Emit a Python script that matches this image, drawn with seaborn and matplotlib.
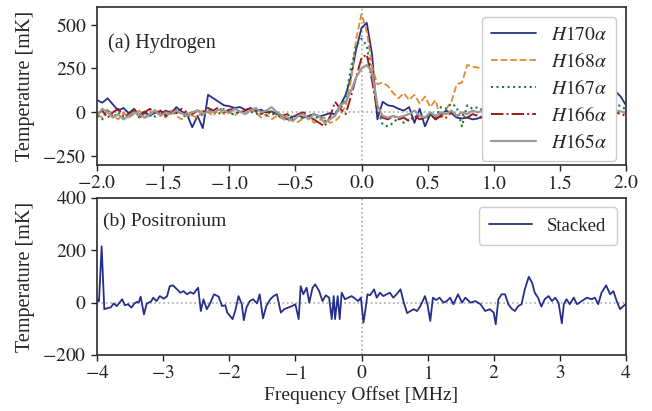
import numpy as np
import pandas as pd
import matplotlib
matplotlib.use("Agg")
import matplotlib.pyplot as plt
from matplotlib.ticker import FuncFormatter
import seaborn as sns

# --- Hydrogen recombination lines, stacked per transition (mK) ---
freq_h = np.linspace(-2.0, 2.0, 101)  # MHz channel grid

h170 = [70, 55, 80, 45, 10, 25, -5, 20, -15, 5,
        -20, 0, -10, 10, -5, 30, 5, -10, -85, -20,
        -90, 100, 80, 60, 40, 35, 25, 30, 15, 20,
        10, 15, 0, 5, -10, -20, -40, -25, -15, -30,
        -20, -10, -25, -15, -5, -10, 40, 100, 200, 360,
        480, 510, 330, -40, 60, 40, 35, 20, 10, 30,
        -60, 20, -80, -10, -40, -15, 10, -5, -30, -35,
        -30, -40, -35, -20, 10, 60, 50, 40, 30, 45,
        20, 35, 10, 25, 40, 30, 15, 20, 35, 50,
        30, 20, 45, 60, 55, 40, 40, 70, 120, 90,
        40]
h168 = [-10, -30, 20, -20, -40, 0, -30, -10, 10, -30,
        -20, 20, -10, -30, 10, -20, -40, 0, -20, -30,
        10, 0, -20, 20, -10, 5, -20, 10, -10, 20,
        0, -30, -10, -40, -20, -35, -50, -40, -55, -35,
        -20, -60, -45, -30, -60, -50, -20, 40, 180, 420,
        560, 460, 260, 160, 170, 150, 110, 80, 110, 70,
        100, 50, 90, 30, 70, -40, 20, 60, 160, 170,
        270, 260, 255, 250, 290, 310, 300, 290, 280, 260,
        240, 220, 200, 180, 150, 130, 110, 90, 70, 50,
        40, 30, 20, 10, 0, -10, 0, -10, 10, 0,
        -5]
h167 = [-20, -40, 10, -30, 0, -35, -10, 20, -30, -10,
        0, -25, 10, -20, -5, 15, -10, -30, 0, 10,
        -20, 15, 5, -10, 20, 0, -15, 10, -5, 5,
        -10, 0, -20, 10, -15, -30, -10, -40, -20, -35,
        -25, -40, -20, -50, -30, -10, 20, 80, 250, 380,
        420, 380, 200, 20, -70, -80, -60, -30, -60, -40,
        -30, -20, -40, -10, -30, 30, 20, 50, 30, -80,
        40, 20, 30, 10, -10, 20, 10, 30, 20, 40,
        20, 30, 10, 40, 20, 30, 10, 20, 40, 30,
        20, 30, 10, 20, 40, 30, 20, 40, 60, 30,
        20]
h166 = [-10, 10, -30, 0, 20, -20, -10, 10, -30, 0,
        20, -10, 10, -20, 15, -5, 20, 0, -10, 10,
        0, 25, 10, 30, 0, 15, 20, -5, 10, 25,
        5, -10, 10, -15, 0, -20, -10, -30, -10, 0,
        -20, -40, -60, -80, -30, 60, 20, -10, 90, 200,
        310, 330, 180, 0, -30, -40, -20, -40, -30, -50,
        -20, -40, -30, -10, -40, -20, -30, 0, -20, -10,
        -30, -10, -20, -40, -10, -20, 0, -10, 10, -20,
        0, 10, -10, 20, 0, -10, 10, 20, 0, -10,
        10, 0, -10, 10, 20, 0, -10, 10, 0, -10,
        -20]
h165 = [-20, 20, 0, -30, -10, -40, -20, 0, -10, -30,
        -10, 10, -20, 0, -10, 10, -5, -20, 0, 10,
        -10, 5, 0, 15, 10, -5, 20, 5, -10, 10,
        25, 0, 10, 30, 0, -20, -30, -50, -20, -10,
        -40, -10, -20, -60, -40, -20, 40, 60, 120, 200,
        250, 270, 230, 40, -20, -30, -20, -30, -20, -10,
        10, -20, -30, 0, -20, 0, -10, 10, -20, 0,
        -10, 10, 0, 10, -10, 0, 10, -10, 0, 10,
        0, -10, 10, 0, -10, 10, 0, -10, 10, 0,
        10, 0, -10, 0, 10, 0, -10, 0, 10, 5,
        0]

# --- Positronium stacked spectrum (mK) ---
freq_ps = [-4.00, -3.97, -3.93, -3.89, -3.83, -3.79, -3.75, -3.70, -3.66, -3.62,
           -3.58, -3.53, -3.48, -3.44, -3.40, -3.37, -3.34, -3.29, -3.25, -3.22,
           -3.18, -3.15, -3.10, -3.05, -2.99, -2.94, -2.90, -2.85, -2.79, -2.74,
           -2.69, -2.64, -2.59, -2.54, -2.49, -2.47, -2.43, -2.39, -2.34, -2.29,
           -2.23, -2.16, -2.11, -2.06, -2.03, -1.99, -1.95, -1.91, -1.86, -1.81,
           -1.78, -1.74, -1.69, -1.64, -1.58, -1.54, -1.49, -1.44, -1.38, -1.33,
           -1.28, -1.22, -1.17, -1.11, -1.05, -1.00, -0.95, -0.92, -0.88, -0.83,
           -0.79, -0.74, -0.70, -0.64, -0.59, -0.54, -0.49, -0.45, -0.42, -0.40,
           -0.36, -0.33, -0.30, -0.25, -0.20, -0.15, -0.10, -0.05, -0.01, 0.03,
           0.06, 0.09, 0.13, 0.19, 0.23, 0.28, 0.33, 0.38, 0.43, 0.48,
           0.53, 0.59, 0.64, 0.69, 0.74, 0.79, 0.84, 0.89, 0.96, 1.00,
           1.04, 1.08, 1.13, 1.18, 1.24, 1.29, 1.34, 1.39, 1.46, 1.52,
           1.57, 1.65, 1.72, 1.80, 1.87, 1.94, 2.00, 2.03, 2.07, 2.12,
           2.17, 2.22, 2.27, 2.32, 2.37, 2.42, 2.47, 2.53, 2.58, 2.62,
           2.67, 2.72, 2.77, 2.83, 2.88, 2.93, 2.98, 3.03, 3.06, 3.10,
           3.15, 3.21, 3.26, 3.33, 3.41, 3.48, 3.53, 3.58, 3.63, 3.70,
           3.76, 3.81, 3.86, 3.91, 3.96, 4.00]
stacked = [13, 5, 215, -25, -20, -18, -3, -13, 0, 13,
           -10, -6, -19, -5, 3, 0, 23, -45, -5, 0,
           5, 19, 6, 25, 15, 25, 63, 66, 51, 38,
           44, 32, 40, 34, 51, 57, -32, 13, -25, -3,
           32, 23, -13, -10, -38, -50, -63, -32, 25, -6,
           -67, -19, 6, 13, -3, 32, -60, -13, 13, 25,
           32, -38, -25, -19, -13, -6, -63, 63, 32, 57,
           0, 57, 70, 44, 6, 28, 19, -63, 25, -63,
           25, -63, 38, 13, 19, 25, 16, 6, 19, -76,
           -25, 32, 28, 51, 19, 38, 25, 32, 38, 19,
           32, 51, 0, -40, -32, -25, -32, -13, 25, -10,
           -70, 19, 10, 19, 0, 6, 19, -6, 32, 0,
           19, 0, 6, -6, -32, -25, -38, -83, 13, 32,
           32, -6, -23, -32, -13, -6, 51, 99, 76, 38,
           19, -15, 13, 25, 6, 19, 0, -79, -6, 13,
           -6, 19, -6, 6, 19, 13, 19, -6, 38, 66,
           32, 44, 6, -25, -13, -5]

series_names = [r"$H170\alpha$", r"$H168\alpha$", r"$H167\alpha$",
                r"$H166\alpha$", r"$H165\alpha$"]
series_vals = [h170, h168, h167, h166, h165]
colors = ["#262f8c", "#e08a35", "#1b7a3c", "#9e1b1b", "#9a9a9a"]
styles = ["-", "--", ":", "-.", "-"]
widths = [1.3, 1.3, 1.5, 1.4, 1.6]

sns.set_theme(style="ticks")
plt.rcParams["font.family"] = ["Liberation Serif", "DejaVu Serif"]
plt.rcParams["mathtext.fontset"] = "stix"
plt.rcParams["font.size"] = 13
plt.rcParams["axes.edgecolor"] = "#333333"
plt.rcParams["xtick.color"] = "#222222"
plt.rcParams["ytick.color"] = "#222222"

fig = plt.figure(figsize=(6.52, 4.11), dpi=100)
ax1 = fig.add_axes([0.1488, 0.5985, 0.8113, 0.3844])
ax2 = fig.add_axes([0.1488, 0.1363, 0.8113, 0.3820])

fmt1 = FuncFormatter(lambda v, p: f"${v:.1f}$")
fmt0 = FuncFormatter(lambda v, p: f"${v:.0f}$")

# Panel (a): hydrogen RRLs
for name, vals, c, ls, lw in zip(series_names, series_vals, colors, styles, widths):
    df = pd.DataFrame({"freq": freq_h, "temp": vals})
    sns.lineplot(data=df, x="freq", y="temp", ax=ax1, color=c, linestyle=ls,
                 linewidth=lw, label=name, errorbar=None)
ax1.axvline(0, color="#aaaaaa", linestyle=":", linewidth=1.2, zorder=0)
ax1.axhline(0, color="#aaaaaa", linestyle=":", linewidth=1.2, zorder=0)
ax1.set_xlim(-2, 2)
ax1.set_ylim(-300, 600)
ax1.set_xticks(np.arange(-2.0, 2.01, 0.5))
ax1.set_yticks([-250, 0, 250, 500])
ax1.xaxis.set_major_formatter(fmt1)
ax1.yaxis.set_major_formatter(fmt0)
ax1.set_xlabel("")
ax1.set_ylabel("Temperature [mK]", fontsize=14.5)
ax1.text(0.02, 0.77, "(a) Hydrogen", transform=ax1.transAxes, fontsize=14.5,
         va="center", ha="left")
leg1 = ax1.legend(loc="upper right", fontsize=14, handlelength=2.3,
                  borderpad=0.45, labelspacing=0.42, framealpha=1.0)
leg1.get_frame().set_edgecolor("#cccccc")

# Panel (b): positronium stack
dfp = pd.DataFrame({"freq": freq_ps, "temp": stacked})
sns.lineplot(data=dfp, x="freq", y="temp", ax=ax2, color=colors[0],
             linewidth=1.3, label="Stacked", errorbar=None)
ax2.axvline(0, color="#aaaaaa", linestyle=":", linewidth=1.2, zorder=0)
ax2.axhline(0, color="#aaaaaa", linestyle=":", linewidth=1.2, zorder=0)
ax2.set_xlim(-4, 4)
ax2.set_ylim(-200, 400)
ax2.set_xticks(np.arange(-4, 5, 1))
ax2.set_yticks([-200, 0, 200, 400])
ax2.xaxis.set_major_formatter(fmt0)
ax2.yaxis.set_major_formatter(fmt0)
ax2.set_xlabel("Frequency Offset [MHz]", fontsize=14)
ax2.set_ylabel("Temperature [mK]", fontsize=14.5)
ax2.text(0.012, 0.85, "(b) Positronium", transform=ax2.transAxes, fontsize=14,
         va="center", ha="left")
leg2 = ax2.legend(loc="upper right", fontsize=13.5, handlelength=2.3,
                  borderpad=0.55, framealpha=1.0)
leg2.get_frame().set_edgecolor("#cccccc")

for ax in (ax1, ax2):
    ax.tick_params(direction="out", length=4, width=1, labelsize=14)
    ax.yaxis.set_label_coords(-0.118, 0.5)
ax2.xaxis.labelpad = 2

fig.savefig("out.png", dpi=100)
